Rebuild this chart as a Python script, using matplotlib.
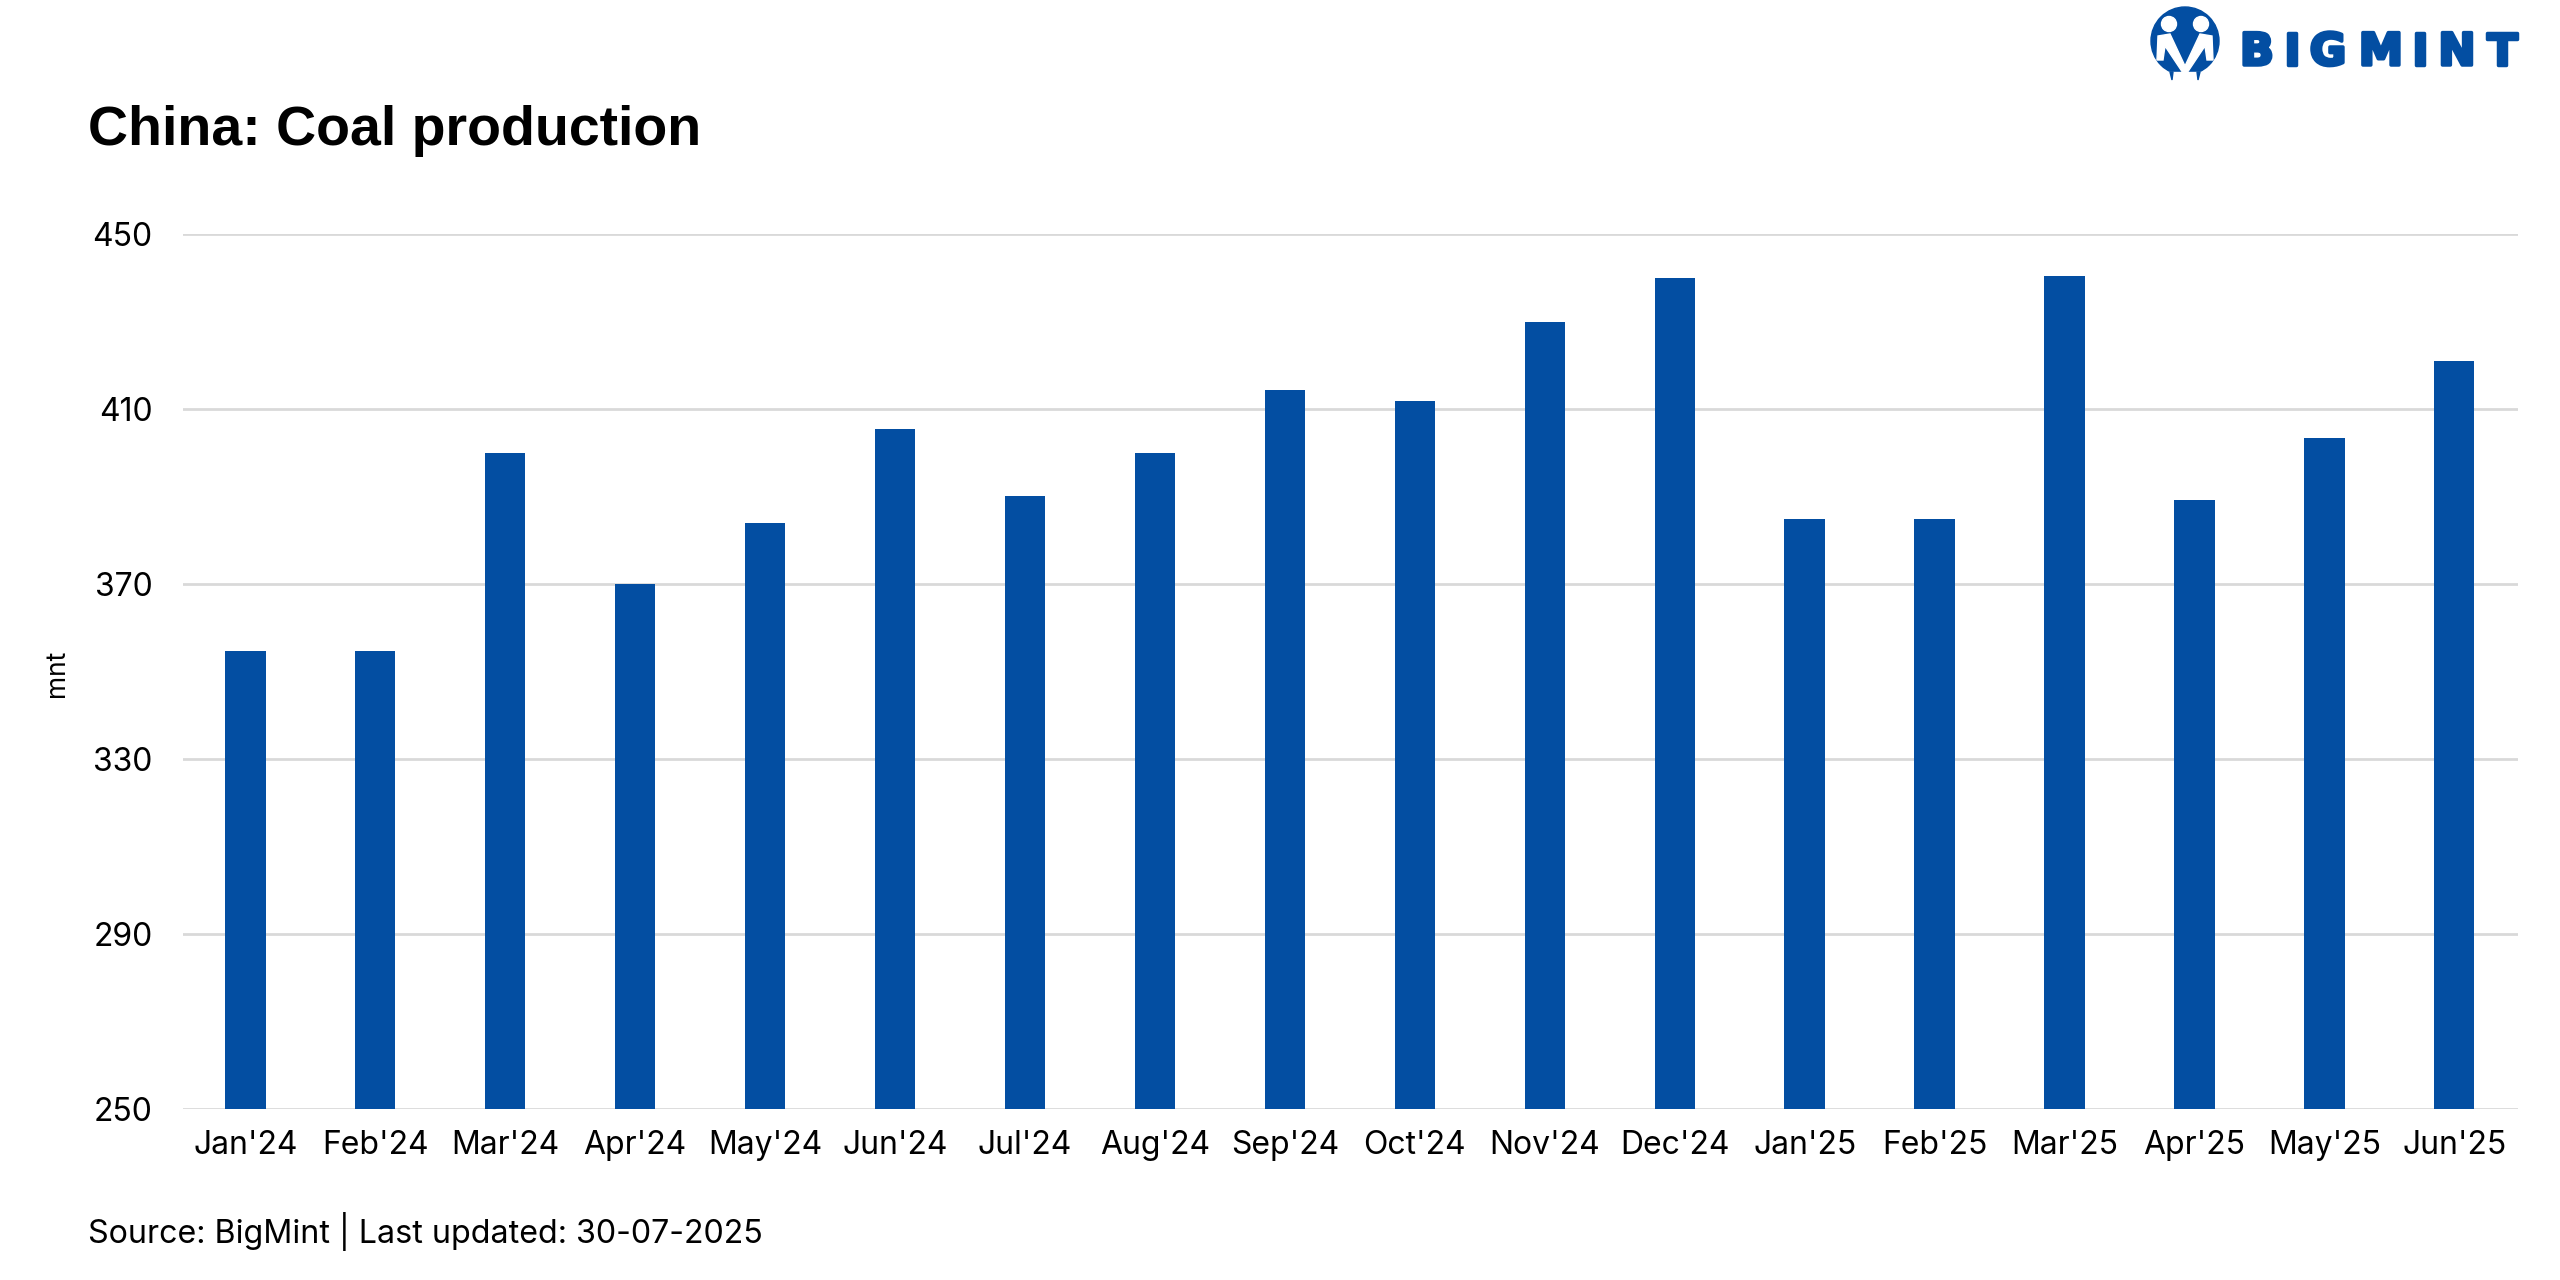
import matplotlib
matplotlib.use("Agg")
import matplotlib.pyplot as plt
import matplotlib.patheffects as pe
from matplotlib.patches import Circle, Polygon

months = ["Jan'24", "Feb'24", "Mar'24", "Apr'24", "May'24", "Jun'24", "Jul'24", "Aug'24", "Sep'24",
          "Oct'24", "Nov'24", "Dec'24", "Jan'25", "Feb'25", "Mar'25", "Apr'25", "May'25", "Jun'25"]
production = [354.8, 354.8, 399.9, 370.0, 383.9, 405.4, 390.1, 399.9, 414.4,
              411.8, 430.0, 439.9, 384.9, 384.9, 440.5, 389.2, 403.3, 421.0]
yticks = [250, 290, 330, 370, 410, 450]

blue = "#034EA2"
plt.rcParams["font.family"] = ["Inter", "DejaVu Sans"]

W, H = 2560, 1280
fig = plt.figure(figsize=(25.6, 12.8), dpi=100)
ax = fig.add_axes([183 / W, 1 - 1109 / H, (2518 - 183) / W, (1109 - 234) / H])

x = list(range(len(months)))
ax.bar(x, production, width=0.31, color=blue, zorder=3)
ax.set_ylim(250, 450)
ax.set_xlim(-0.48, len(months) - 0.51)
ax.set_yticks(yticks)
ax.set_xticks(x)
ax.set_xticklabels(months)
ax.grid(axis="y", color="#D9D9D9", linewidth=2, zorder=0)
for s in ax.spines.values():
    s.set_visible(False)
ax.tick_params(axis="both", length=0, labelsize=23, colors="black")
ax.tick_params(axis="x", pad=15)
ax.tick_params(axis="y", pad=22)

fig.text(57 / W, 1 - 673 / H, "mnt", rotation=90, fontsize=19, ha="center", va="center")
fig.text(88 / W, 1 - 145 / H, "China: Coal production", fontsize=40, fontweight="bold",
         family="Liberation Sans", ha="left", va="baseline")
fig.text(88 / W, 1 - 1243 / H, "Source: BigMint | Last updated: 30-07-2025", fontsize=23.2,
         ha="left", va="baseline")

# logo
for ch, cx in zip("BIGMINT", [2257, 2292, 2328, 2381, 2420, 2457, 2502]):
    fig.text(cx / W, 1 - 65 / H, ch, fontsize=32, fontweight="heavy", color=blue,
             family="DejaVu Sans", ha="center", va="baseline",
             path_effects=[pe.withStroke(linewidth=2.5, foreground=blue)])

lg = fig.add_axes([2140 / W, 1 - 90 / H, 100 / W, 90 / H])
lg.set_xlim(2140, 2240)
lg.set_ylim(90, 0)
lg.axis("off")
lg.add_patch(Circle((2185, 41), 34, color=blue))
lg.add_patch(Polygon([[2160, 80], [2210, 80], [2210, 72], [2160, 72]], color="white"))
lg.add_patch(Circle((2169, 24), 7.5, color="white"))
lg.add_patch(Circle((2201, 24), 7.5, color="white"))
lg.add_patch(Polygon([[2158, 36], [2170, 34], [2185, 66], [2200, 34], [2212, 36],
                      [2213, 60], [2207, 60], [2205, 46], [2185, 76], [2165, 46],
                      [2163, 60], [2157, 60]], color="white"))
lg.add_patch(Polygon([[2170, 72], [2173, 72], [2172, 80]], color=blue))
lg.add_patch(Polygon([[2197, 72], [2200, 72], [2198, 80]], color=blue))

fig.savefig("out.png", dpi=100)
